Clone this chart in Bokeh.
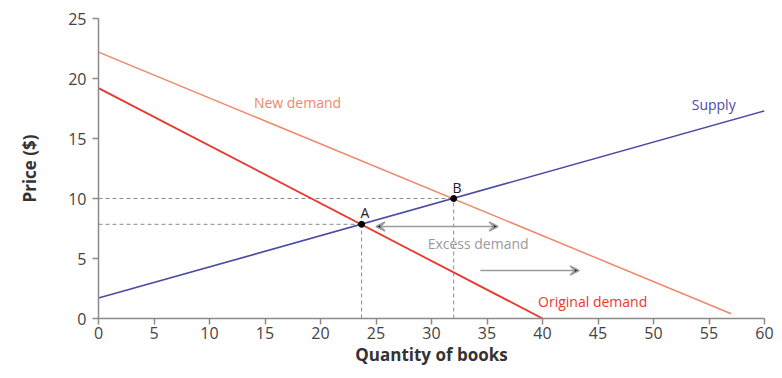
from bokeh.plotting import figure
from bokeh.models import Arrow, VeeHead, Label, FixedTicker
from bokeh.embed import file_html
from bokeh.resources import INLINE

# Data
supply_x = [0, 60]
supply_y = [1.7, 17.3]
orig_demand_x = [0, 40]
orig_demand_y = [19.2, 0]
new_demand_x = [0, 57]
new_demand_y = [22.2, 0.4]
points_x = [23.7, 32]
points_y = [7.85, 10]
point_names = ["A", "B"]
ticks_x = [0, 5, 10, 15, 20, 25, 30, 35, 40, 45, 50, 55, 60]
ticks_y = [0, 5, 10, 15, 20, 25]

FONT = "Open Sans"
GREY = "#8a8a8a"
BLUE = "#4b4ba6"
RED = "#e8382d"
SALMON = "#f0876a"

p = figure(width=774, height=370, x_range=(0, 60), y_range=(0, 25),
           output_backend="svg", toolbar_location=None,
           min_border_left=98, min_border_right=10, min_border_top=18, min_border_bottom=52)
p.outline_line_color = None
p.xgrid.grid_line_color = None
p.ygrid.grid_line_color = None

# dashed guides
for px, py in zip(points_x, points_y):
    p.line([0, px], [py, py], line_color=GREY, line_dash="4 3", line_width=1)
    p.line([px, px], [0, py], line_color=GREY, line_dash="4 3", line_width=1)

p.line(new_demand_x, new_demand_y, line_color=SALMON, line_width=1.5)
p.line(orig_demand_x, orig_demand_y, line_color=RED, line_width=1.8)
p.line(supply_x, supply_y, line_color=BLUE, line_width=1.6)

p.scatter(points_x, points_y, size=6, color="black")

# arrows
ARROW = "#9c9c9c"
p.add_layout(Arrow(x_start=25.0, y_start=7.67, x_end=36.0, y_end=7.67,
                   start=VeeHead(size=9, line_color=ARROW, line_width=1.5),
                   end=VeeHead(size=9, line_color=ARROW, line_width=1.5),
                   line_color=ARROW, line_width=1.5))
p.add_layout(Arrow(x_start=34.4, y_start=4.0, x_end=43.3, y_end=4.0,
                   end=VeeHead(size=9, line_color=ARROW, line_width=1.5),
                   line_color=ARROW, line_width=1.5))

def lab(x, y, t, color, align="left", size="14px", base="middle"):
    p.add_layout(Label(x=x, y=y, text=t, text_color=color, text_font=FONT,
                       text_font_size=size, text_align=align, text_baseline=base))

lab(14.0, 18.0, "New demand", SALMON)
lab(57.4, 17.8, "Supply", BLUE, align="right")
lab(39.6, 1.4, "Original demand", RED)
lab(34.2, 6.25, "Excess demand", "#9a9a9a", align="center")
for name, px, py in zip(point_names, points_x, points_y):
    lab(px + 0.3, py + 0.95, name, "#222222", align="center")

for ax in (p.xaxis, p.yaxis):
    ax.axis_line_color = GREY
    ax.axis_line_width = 1.5
    ax.major_tick_line_color = GREY
    ax.major_tick_line_width = 1.5
    ax.major_tick_out = 6
    ax.major_tick_in = 0
    ax.minor_tick_line_color = None
    ax.major_label_text_font = FONT
    ax.major_label_text_font_size = "16px"
    ax.major_label_text_color = "#444444"
    ax.axis_label_text_font = FONT
    ax.axis_label_text_font_size = "17px"
    ax.axis_label_text_font_style = "bold"
    ax.axis_label_text_color = "#333333"

p.xaxis.ticker = FixedTicker(ticks=ticks_x)
p.yaxis.ticker = FixedTicker(ticks=ticks_y)
p.xaxis.axis_label = "Quantity of books"
p.yaxis.axis_label = "Price ($)"
p.xaxis.major_label_standoff = 2
p.yaxis.major_label_standoff = 6
p.xaxis.axis_label_standoff = 1
p.yaxis.axis_label_standoff = 24

open("out.html", "w").write(file_html(p, INLINE))
